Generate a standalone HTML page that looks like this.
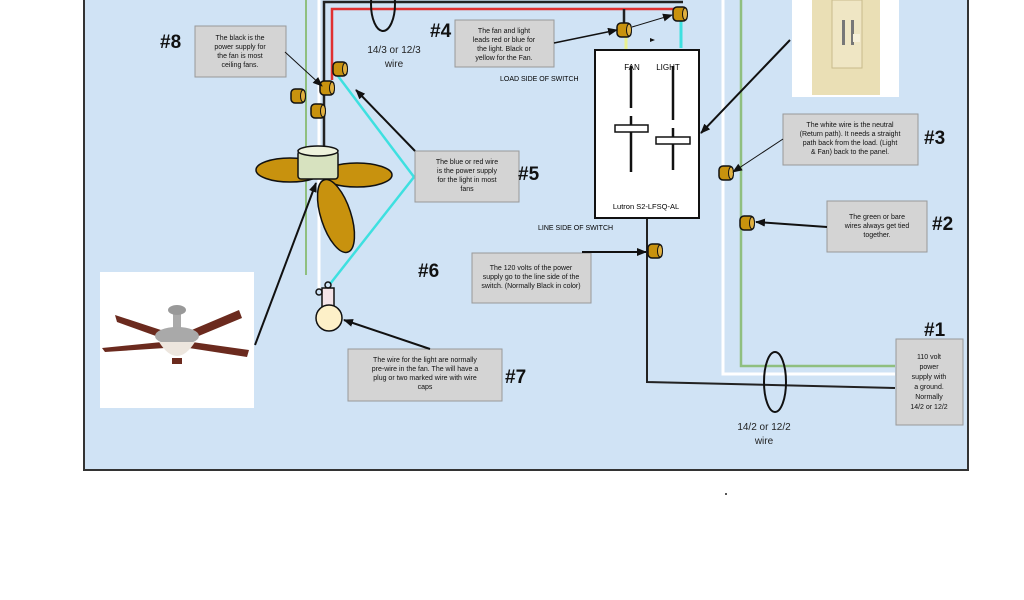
<!DOCTYPE html>
<html><head><meta charset="utf-8"><style>
html,body{margin:0;padding:0;background:#fff;}
svg{display:block;}
text{font-family:"Liberation Sans",sans-serif;}
</style></head><body>
<svg width="1024" height="600" viewBox="0 0 1024 600" xmlns="http://www.w3.org/2000/svg">
<defs>
<marker id="ah" markerWidth="10" markerHeight="8" refX="9" refY="4" orient="auto" markerUnits="userSpaceOnUse"><path d="M0,0 L10,4 L0,8 z" fill="#111"/></marker>
<g id="nut"><rect x="-7" y="-7" width="14" height="14" rx="4" fill="#c8920e" stroke="#111" stroke-width="1.5"/><ellipse cx="5" cy="0" rx="2.5" ry="6" fill="#e0b040" stroke="#111" stroke-width="1"/></g>
</defs>
<rect x="84" y="-2" width="884" height="472" fill="#d0e3f5" stroke="#333" stroke-width="2"/>
<!-- left wires -->
<line x1="306" y1="0" x2="306" y2="275" stroke="#8fbf7f" stroke-width="2"/>
<line x1="319" y1="0" x2="319" y2="290" stroke="#fff" stroke-width="3"/>
<polyline points="324,160 324,2 683,2" fill="none" stroke="#222" stroke-width="2.5"/>
<polyline points="332,80 332,9 682,9" fill="none" stroke="#e03030" stroke-width="2.5"/>
<polyline points="624,30 624,9" fill="none" stroke="#222" stroke-width="2.5"/>
<line x1="338" y1="76" x2="414" y2="177" stroke="#3ee0e0" stroke-width="2.5"/>
<line x1="414" y1="177" x2="330" y2="284" stroke="#3ee0e0" stroke-width="2.5"/>
<line x1="626" y1="35" x2="626" y2="52" stroke="#e8f090" stroke-width="3"/>
<line x1="681" y1="18" x2="681" y2="48" stroke="#3ee0e0" stroke-width="3"/>
<!-- right wires -->
<polyline points="723,0 723,374 895,374" fill="none" stroke="#fff" stroke-width="3"/>
<polyline points="741,0 741,366 895,366" fill="none" stroke="#8fbf7f" stroke-width="2.5"/>
<polyline points="647,218 647,382 895,388" fill="none" stroke="#222" stroke-width="2"/>
<ellipse cx="383" cy="4" rx="12" ry="27" fill="none" stroke="#111" stroke-width="2"/>
<ellipse cx="775" cy="382" rx="11" ry="30" fill="none" stroke="#111" stroke-width="2"/>
<!-- fan symbol -->
<ellipse cx="290" cy="170" rx="34" ry="12" fill="#c8920e" stroke="#111" stroke-width="1.5"/>
<ellipse cx="357" cy="175" rx="35" ry="12" fill="#c8920e" stroke="#111" stroke-width="1.5"/>
<ellipse cx="336" cy="216" rx="15" ry="38" transform="rotate(-18 336 216)" fill="#c8920e" stroke="#111" stroke-width="1.5"/>
<rect x="298" y="151" width="40" height="28" rx="3" fill="#d7e2bf" stroke="#111" stroke-width="1.5"/>
<ellipse cx="318" cy="151" rx="20" ry="5" fill="#eef2dc" stroke="#111" stroke-width="1.5"/>
<!-- light bulb -->
<rect x="322" y="288" width="12" height="20" fill="#f4e4e8" stroke="#111" stroke-width="1.5"/>
<circle cx="328" cy="285" r="3" fill="none" stroke="#111" stroke-width="1.5"/>
<circle cx="319" cy="292" r="3" fill="none" stroke="#111" stroke-width="1.5"/>
<circle cx="329" cy="318" r="13" fill="#fdf0c8" stroke="#111" stroke-width="1.5"/>
<!-- nuts -->
<use href="#nut" x="340" y="69"/><use href="#nut" x="327" y="88"/><use href="#nut" x="298" y="96"/><use href="#nut" x="318" y="111"/>
<use href="#nut" x="624" y="30"/><use href="#nut" x="680" y="14"/><use href="#nut" x="726" y="173"/><use href="#nut" x="747" y="223"/><use href="#nut" x="655" y="251"/>
<!-- switch -->
<rect x="595" y="50" width="104" height="168" fill="#fff" stroke="#111" stroke-width="2"/>
<text x="632" y="70" font-size="8" text-anchor="middle">FAN</text>
<text x="668" y="70" font-size="8" text-anchor="middle">LIGHT</text>
<line x1="631" y1="66" x2="631" y2="108" stroke="#111" stroke-width="2.5"/>
<line x1="631" y1="116" x2="631" y2="172" stroke="#111" stroke-width="2.5"/>
<rect x="615" y="125" width="33" height="7" fill="#fff" stroke="#111" stroke-width="1.5"/>
<line x1="673" y1="66" x2="673" y2="120" stroke="#111" stroke-width="2.5"/>
<line x1="673" y1="128" x2="673" y2="170" stroke="#111" stroke-width="2.5"/>
<rect x="656" y="137" width="34" height="7" fill="#fff" stroke="#111" stroke-width="1.5"/>
<text x="646" y="209" font-size="7.5" text-anchor="middle">Lutron S2-LFSQ-AL</text>
<text x="500" y="81" font-size="7">LOAD SIDE OF SWITCH</text>
<text x="538" y="230" font-size="7">LINE SIDE OF SWITCH</text>
<path d="M650,38 l5,2 l-5,2z" fill="#111"/>
<!-- photos -->
<rect x="792" y="0" width="107" height="97" fill="#fff"/>
<rect x="812" y="0" width="68" height="95" fill="#eadfb5"/>
<rect x="832" y="0" width="30" height="68" fill="#efe6c4" stroke="#c8bb8c" stroke-width="1"/>
<rect x="842" y="20" width="3" height="25" fill="#777"/><rect x="851" y="20" width="3" height="25" fill="#777"/>
<rect x="853" y="34" width="7" height="8" fill="#f6f0da"/>
<rect x="100" y="272" width="154" height="136" fill="#fff"/>
<g transform="translate(177,340)">
<path d="M-10,-8 L-62,-25 L-60,-18 L-10,0z" fill="#6b2a1e"/>
<path d="M10,-8 L62,-30 L65,-22 L12,0z" fill="#6b2a1e"/>
<path d="M-15,2 L-75,8 L-72,12 L-12,8z" fill="#6b2a1e"/>
<path d="M15,2 L72,10 L70,17 L12,8z" fill="#6b2a1e"/>
<rect x="-4" y="-32" width="8" height="20" fill="#aaa"/>
<ellipse cx="0" cy="-30" rx="9" ry="5" fill="#999"/>
<ellipse cx="0" cy="-4" rx="22" ry="9" fill="#a9a9a9"/>
<path d="M-18,2 Q0,30 18,2z" fill="#ede6de"/>
<rect x="-5" y="18" width="10" height="6" fill="#6b2a1e"/>
</g>
<!-- callouts -->
<g font-size="7" text-anchor="middle" fill="#111">
<rect x="195" y="26" width="91" height="51" fill="#d4d4d4" stroke="#999"/>
<text x="240" y="40">The black is the</text><text x="240" y="49">power supply for</text><text x="240" y="58">the fan is most</text><text x="240" y="67">ceiling fans.</text>
<rect x="455" y="20" width="99" height="47" fill="#d4d4d4" stroke="#999"/>
<text x="504" y="33">The fan and light</text><text x="504" y="42">leads red or blue for</text><text x="504" y="51">the light. Black or</text><text x="504" y="60">yellow for the Fan.</text>
<rect x="415" y="151" width="104" height="51" fill="#d4d4d4" stroke="#999"/>
<text x="467" y="164">The blue or red wire</text><text x="467" y="173">is the power supply</text><text x="467" y="182">for the light in most</text><text x="467" y="191">fans</text>
<rect x="472" y="253" width="119" height="50" fill="#d4d4d4" stroke="#999"/>
<text x="531" y="270">The 120 volts of the power</text><text x="531" y="279">supply go to the line side of the</text><text x="531" y="288">switch. (Normally Black in color)</text>
<rect x="348" y="349" width="154" height="52" fill="#d4d4d4" stroke="#999"/>
<text x="425" y="362">The wire for the light are normally</text><text x="425" y="371">pre-wire in the fan. The will have a</text><text x="425" y="380">plug or two marked wire with wire</text><text x="425" y="389">caps</text>
<rect x="783" y="114" width="135" height="51" fill="#d4d4d4" stroke="#999"/>
<text x="850" y="127">The white wire is the neutral</text><text x="850" y="136">(Return path). It needs a straight</text><text x="850" y="145">path back from the load. (Light</text><text x="850" y="154">&amp; Fan) back to the panel.</text>
<rect x="827" y="201" width="100" height="51" fill="#d4d4d4" stroke="#999"/>
<text x="877" y="219">The green or bare</text><text x="877" y="228">wires always get tied</text><text x="877" y="237">together.</text>
<rect x="896" y="339" width="67" height="86" fill="#d4d4d4" stroke="#999"/>
<text x="929" y="359">110 volt</text><text x="929" y="369">power</text><text x="929" y="379">supply with</text><text x="929" y="389">a ground.</text><text x="929" y="399">Normally</text><text x="929" y="409">14/2 or 12/2</text>
</g>
<g font-size="19" font-weight="bold" fill="#111">
<text x="160" y="48">#8</text><text x="430" y="37">#4</text><text x="518" y="180">#5</text><text x="418" y="277">#6</text>
<text x="505" y="383">#7</text><text x="924" y="144">#3</text><text x="932" y="230">#2</text><text x="924" y="336">#1</text>
</g>
<g font-size="10" text-anchor="middle" fill="#222">
<text x="394" y="53">14/3 or 12/3</text><text x="394" y="67">wire</text>
<text x="764" y="430">14/2 or 12/2</text><text x="764" y="444">wire</text>
</g>
<!-- arrows -->
<g stroke="#111" fill="none" marker-end="url(#ah)">
<line x1="285" y1="52" x2="322" y2="86" stroke-width="1"/>
<line x1="415" y1="151" x2="356" y2="90" stroke-width="2"/>
<line x1="554" y1="43" x2="617" y2="30" stroke-width="1.5"/>
<line x1="632" y1="27" x2="672" y2="15" stroke-width="1"/>
<line x1="790" y1="40" x2="701" y2="133" stroke-width="2"/>
<line x1="783" y1="139" x2="733" y2="172" stroke-width="1"/>
<line x1="827" y1="227" x2="756" y2="222" stroke-width="2"/>
<line x1="582" y1="252" x2="646" y2="252" stroke-width="2"/>
<line x1="430" y1="349" x2="344" y2="320" stroke-width="2"/>
<line x1="255" y1="345" x2="316" y2="183" stroke-width="2"/>
</g>
<rect x="725" y="493" width="2" height="2" fill="#555"/>
</svg>
</body></html>
